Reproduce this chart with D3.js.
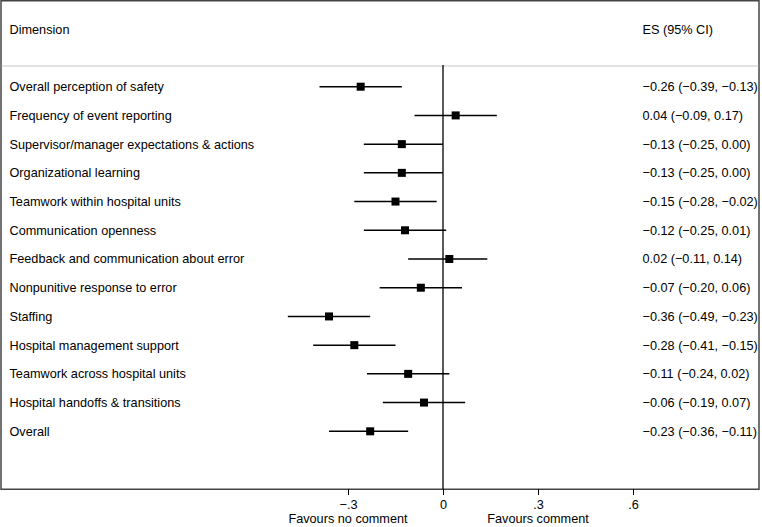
<!DOCTYPE html>
<html><head><meta charset="utf-8">
<script src="https://cdn.jsdelivr.net/npm/d3@7"></script>
<style>body{margin:0;background:#fff}svg{display:block}text{font-family:"Liberation Sans",Arial,sans-serif;fill:#000}</style>
</head><body><svg id="c" width="762" height="527"></svg>
<script>
const dimensions = ["Overall perception of safety","Frequency of event reporting","Supervisor/manager expectations & actions","Organizational learning","Teamwork within hospital units","Communication openness","Feedback and communication about error","Nonpunitive response to error","Staffing","Hospital management support","Teamwork across hospital units","Hospital handoffs & transitions","Overall"];
const es = [-0.26,0.04,-0.13,-0.13,-0.15,-0.12,0.02,-0.07,-0.36,-0.28,-0.11,-0.06,-0.23];
const lower = [-0.39,-0.09,-0.25,-0.25,-0.28,-0.25,-0.11,-0.20,-0.49,-0.41,-0.24,-0.19,-0.36];
const upper = [-0.13,0.17,0.00,0.00,-0.02,0.01,0.14,0.06,-0.23,-0.15,0.02,0.07,-0.11];
const tickValues = [-0.3,0,0.3,0.6];
const tickLabels = ["−.3","0",".3",".6"];
const sideLabels = ["Favours no comment","Favours comment"];
const sideAt = [-0.3,0.3];

const FS = 12.7;
const svg = d3.select("#c");
const x = d3.scaleLinear().domain([-0.6,0.6]).range([253,633]);
const y = d3.scalePoint().domain(dimensions).range([86.7,431.3]);
const fmt = v => (v<0?"−":"")+Math.abs(v).toFixed(2);
const data = dimensions.map((d,i)=>({d,es:es[i],lo:lower[i],hi:upper[i]}));

// frame
svg.append("rect").attr("x",1).attr("y",0.75).attr("width",758).attr("height",488.5)
  .attr("fill","none").attr("stroke","#444").attr("stroke-width",1.5);
svg.append("line").attr("x1",1.5).attr("x2",758.5).attr("y1",66).attr("y2",66).attr("stroke","#c8c8c8").attr("stroke-width",1.2);

// headers
svg.append("text").attr("x",9.5).attr("y",30).attr("dy","0.35em").attr("font-size",FS).text("Dimension");
svg.append("text").attr("x",642.5).attr("y",30).attr("dy","0.35em").attr("font-size",FS).text("ES (95% CI)");

// zero line
svg.append("line").attr("x1",x(0)).attr("x2",x(0)).attr("y1",65).attr("y2",489).attr("stroke","#000").attr("stroke-width",1.3);

const g = svg.append("g");
g.selectAll("text.lab").data(data).join("text").attr("class","lab")
  .attr("x",9.5).attr("y",d=>y(d.d)).attr("dy","0.35em").attr("font-size",FS).text(d=>d.d);
g.selectAll("line.ci").data(data).join("line").attr("class","ci")
  .attr("x1",d=>x(d.lo)).attr("x2",d=>x(d.hi)).attr("y1",d=>y(d.d)).attr("y2",d=>y(d.d))
  .attr("stroke","#000").attr("stroke-width",1.5);
g.selectAll("rect.pt").data(data).join("rect").attr("class","pt")
  .attr("x",d=>x(d.es)-4).attr("y",d=>y(d.d)-4).attr("width",8).attr("height",8).attr("fill","#000");
g.selectAll("text.es").data(data).join("text").attr("class","es")
  .attr("x",642.5).attr("y",d=>y(d.d)).attr("dy","0.35em").attr("font-size",FS)
  .text(d=>`${fmt(d.es)} (${fmt(d.lo)}, ${fmt(d.hi)})`);

// axis
const axis = d3.axisBottom(x).tickValues(tickValues).tickFormat((d,i)=>tickLabels[i]).tickSize(6).tickSizeOuter(0).tickPadding(5);
const ag = svg.append("g").attr("transform","translate(0,489)").call(axis);
ag.select(".domain").remove();
ag.selectAll(".tick line").attr("stroke","#000").attr("stroke-width",1);
ag.selectAll(".tick text").attr("font-size",FS).attr("font-family","Liberation Sans, Arial, sans-serif").attr("fill","#000");
svg.selectAll("text.side").data(sideLabels).join("text").attr("class","side")
  .attr("x",(d,i)=>x(sideAt[i])).attr("y",519).attr("dy","0.35em").attr("text-anchor","middle").attr("font-size",FS).text(d=>d);
</script></body></html>
